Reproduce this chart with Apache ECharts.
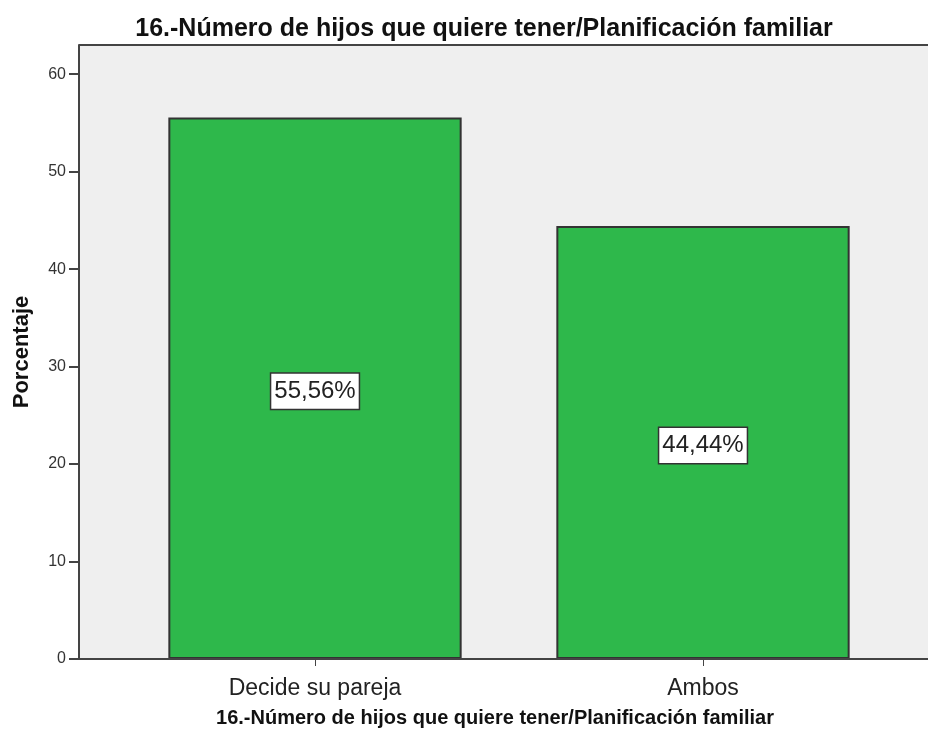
<!DOCTYPE html>
<html>
<head>
<meta charset="utf-8">
<title>16.-Número de hijos que quiere tener/Planificación familiar</title>
<script src="https://cdn.jsdelivr.net/npm/echarts@6/dist/echarts.min.js"></script>
<style>
  html, body { margin: 0; padding: 0; background: #ffffff; }
  #chart { width: 928px; height: 740px; }
</style>
</head>
<body>
<div id="chart"></div>
<script>
// Survey answers: who decides how many children to have
const categories = ['Decide su pareja', 'Ambos'];
const percentages = [55.56, 44.44];
const yTickValues = [0, 10, 20, 30, 40, 50, 60];

const chartTitle = '16.-Número de hijos que quiere tener/Planificación familiar';
const xAxisTitle = '16.-Número de hijos que quiere tener/Planificación familiar';
const yAxisTitle = 'Porcentaje';

const FONT = 'Arial, "Liberation Sans", sans-serif';

// Plot frame (panel background extends past the bar area)
const frame = { left: 79, top: 45, right: 930, bottom: 659 };
const axisColor = '#444444';

const chart = echarts.init(document.getElementById('chart'), null, { renderer: 'canvas' });

chart.setOption({
  animation: false,
  backgroundColor: '#ffffff',
  title: [
    {
      text: chartTitle,
      left: 484,
      top: 17,
      textAlign: 'center',
      padding: 0,
      textStyle: { fontFamily: FONT, fontSize: 25, fontWeight: 'bold', color: '#111111' }
    },
    {
      text: xAxisTitle,
      left: 495,
      top: 708,
      textAlign: 'center',
      padding: 0,
      textStyle: { fontFamily: FONT, fontSize: 20, fontWeight: 'bold', color: '#111111' }
    }
  ],
  graphic: [
    {
      type: 'rect',
      z: -10,
      silent: true,
      shape: {
        x: frame.left, y: frame.top,
        width: frame.right - frame.left, height: frame.bottom - frame.top
      },
      style: { fill: '#efefef' }
    },
    {
      type: 'line',
      z: 10,
      silent: true,
      shape: { x1: frame.left, y1: frame.top, x2: frame.right, y2: frame.top },
      style: { stroke: axisColor, lineWidth: 2 }
    },
    {
      type: 'line',
      z: 10,
      silent: true,
      shape: { x1: frame.left, y1: frame.bottom, x2: frame.right, y2: frame.bottom },
      style: { stroke: axisColor, lineWidth: 2 }
    }
  ],
  grid: {
    left: 121,
    right: 31,
    top: frame.top,
    bottom: 740 - frame.bottom,
    containLabel: false
  },
  xAxis: {
    type: 'category',
    data: categories,
    boundaryGap: true,
    axisLine: { show: false },
    axisTick: { show: true, alignWithLabel: true, length: 7, lineStyle: { color: axisColor, width: 1 } },
    axisLabel: { fontFamily: FONT, fontSize: 23, color: '#222222', margin: 18 },
    splitLine: { show: false }
  },
  yAxis: {
    type: 'value',
    min: 0,
    max: 63,
    interval: 10,
    offset: 42,
    name: yAxisTitle,
    nameLocation: 'middle',
    nameGap: 46,
    nameRotate: 90,
    nameTextStyle: { fontFamily: FONT, fontSize: 22, fontWeight: 'bold', color: '#111111' },
    axisLine: { show: true, onZero: false, lineStyle: { color: axisColor, width: 2 } },
    axisTick: { show: true, length: 10, customValues: yTickValues, lineStyle: { color: axisColor, width: 2 } },
    axisLabel: { fontFamily: FONT, fontSize: 16, color: '#333333', margin: 13, customValues: yTickValues },
    splitLine: { show: false }
  },
  series: [
    {
      type: 'bar',
      data: percentages,
      barWidth: '75.6%',
      itemStyle: { color: '#2eb84b', borderColor: '#333333', borderWidth: 2 },
      label: {
        show: true,
        position: 'inside',
        offset: [0, 3],
        formatter: (p) => p.value.toFixed(2).replace('.', ',') + '%',
        fontFamily: FONT,
        fontSize: 24,
        color: '#222222',
        backgroundColor: '#ffffff',
        borderColor: '#333333',
        borderWidth: 1.5,
        padding: [6, 3, 5, 3]
      }
    }
  ]
});
</script>
</body>
</html>
